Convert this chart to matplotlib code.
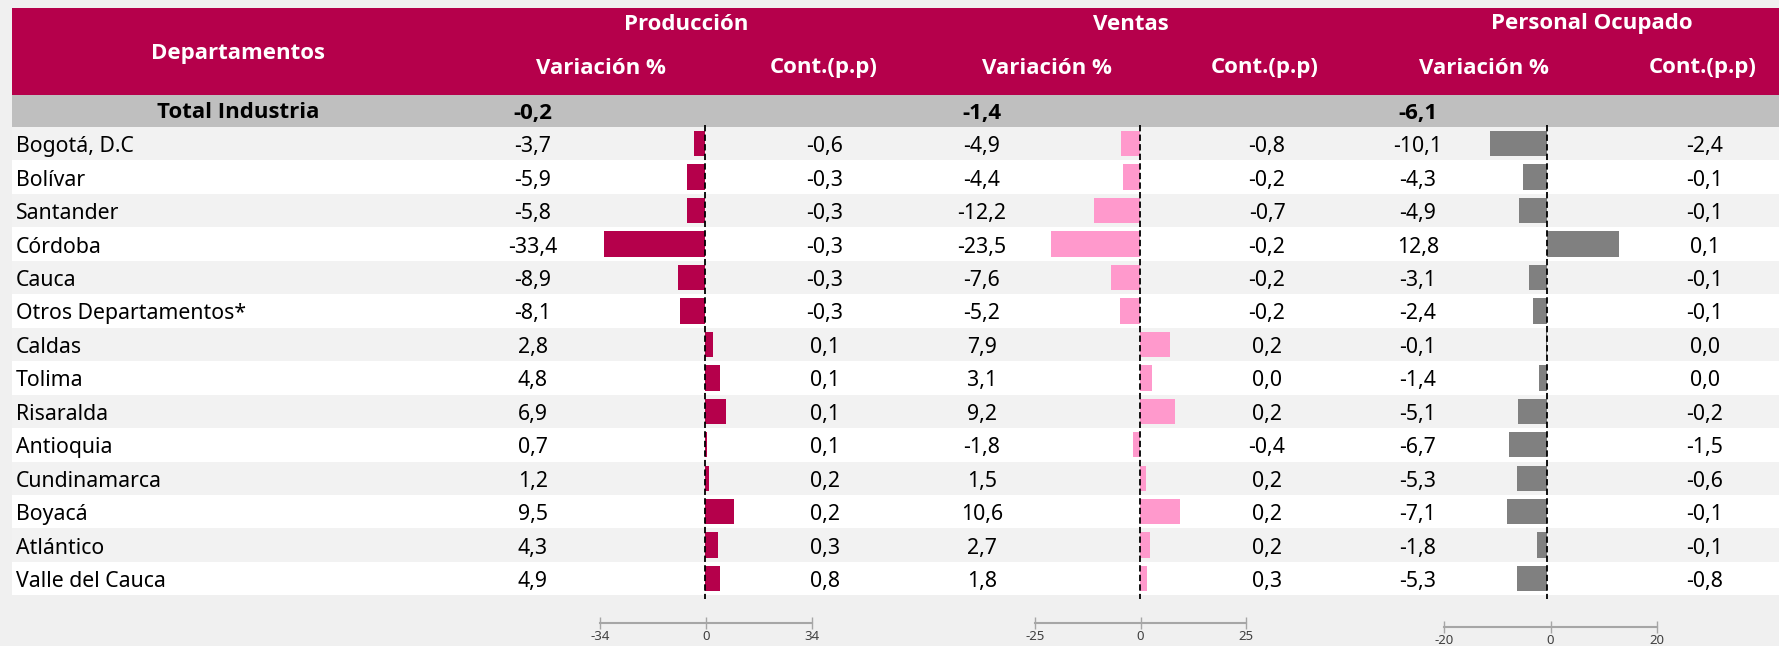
import matplotlib
matplotlib.use("Agg")
import matplotlib.pyplot as plt
from matplotlib.patches import Rectangle

plt.rcParams['font.family'] = ['Noto Sans', 'DejaVu Sans']
plt.rcParams['axes.unicode_minus'] = False
BOLD_FAMILY = ['Open Sans', 'Roboto', 'DejaVu Sans']

departments = ["Bogotá, D.C", "Bolívar", "Santander", "Córdoba", "Cauca",
               "Otros Departamentos*", "Caldas", "Tolima", "Risaralda",
               "Antioquia", "Cundinamarca", "Boyacá", "Atlántico",
               "Valle del Cauca"]
prod_var = [-3.7, -5.9, -5.8, -33.4, -8.9, -8.1, 2.8, 4.8, 6.9, 0.7, 1.2, 9.5, 4.3, 4.9]
prod_cont = [-0.6, -0.3, -0.3, -0.3, -0.3, -0.3, 0.1, 0.1, 0.1, 0.1, 0.2, 0.2, 0.3, 0.8]
vent_var = [-4.9, -4.4, -12.2, -23.5, -7.6, -5.2, 7.9, 3.1, 9.2, -1.8, 1.5, 10.6, 2.7, 1.8]
vent_cont = [-0.8, -0.2, -0.7, -0.2, -0.2, -0.2, 0.2, 0.0, 0.2, -0.4, 0.2, 0.2, 0.2, 0.3]
pers_var = [-10.1, -4.3, -4.9, 12.8, -3.1, -2.4, -0.1, -1.4, -5.1, -6.7, -5.3, -7.1, -1.8, -5.3]
pers_cont = [-2.4, -0.1, -0.1, 0.1, -0.1, -0.1, 0.0, 0.0, -0.2, -1.5, -0.6, -0.1, -0.1, -0.8]
groups = ["Producción", "Ventas", "Personal Ocupado"]
totals = [-0.2, -1.4, -6.1]
scale_ticks = [[-34, 0, 34], [-25, 0, 25], [-20, 0, 20]]

W, H = 1779, 646
CRIMSON = "#B5004B"
bar_colors = [CRIMSON, "#FF99CC", "#808080"]


def fmt(v):
    return f"{v:.1f}".replace(".", ",")


fig = plt.figure(figsize=(W / 100, H / 100), dpi=100, facecolor="#F0F0F0")


def px_axes(x0, y0, x1, y1):
    return fig.add_axes([x0 / W, 1 - y1 / H, (x1 - x0) / W, (y1 - y0) / H])


bg = px_axes(0, 0, W, H)
bg.set_xlim(0, W)
bg.set_ylim(H, 0)
bg.axis("off")

# table layout (pixels)
left = 12
head_top, head_bot = 8, 95
tot_bot = 127
row_h = 33.45
n = len(departments)

bg.add_patch(Rectangle((left, head_top), W - left, head_bot - head_top, color=CRIMSON, lw=0))
bg.add_patch(Rectangle((left, head_bot), W - left, tot_bot - head_bot, color="#BFBFBF", lw=0))
for i in range(n):
    c = "#F2F2F2" if i % 2 == 0 else "white"
    bg.add_patch(Rectangle((left, tot_bot + i * row_h), W - left, row_h, color=c, lw=0))

# column centres
group_x = [686, 1131, 1592]
varh_x = [601, 1047, 1484]
conth_x = [824, 1265, 1703]
var_x = [533, 982, 1418]
cont_x = [825, 1267, 1705]

hdr = dict(color="white", fontsize=16, fontweight="bold", family=BOLD_FAMILY,
           ha="center", va="center")
bg.text(238, 53, "Departamentos", **hdr)
for k in range(3):
    bg.text(group_x[k], 24, groups[k], **hdr)
    bg.text(varh_x[k], 68, "Variación %", **hdr)
    bg.text(conth_x[k], 68, "Cont.(p.p)", **hdr)
    bg.text(var_x[k], 113, fmt(totals[k]), fontsize=16, fontweight="bold",
            family=BOLD_FAMILY, ha="center", va="center", color="black")
bg.text(238, 113, "Total Industria", fontsize=16, fontweight="bold",
        family=BOLD_FAMILY, ha="center", va="center", color="black")

vars_ = [prod_var, vent_var, pers_var]
conts = [prod_cont, vent_cont, pers_cont]
for i in range(n):
    yc = tot_bot + (i + 0.5) * row_h + 3
    bg.text(16, yc, departments[i], fontsize=15.3, ha="left", va="center", color="black")
    for k in range(3):
        bg.text(var_x[k], yc, fmt(vars_[k][i]), fontsize=15.3, ha="center", va="center", color="black")
        bg.text(cont_x[k], yc, fmt(conts[k][i]), fontsize=15.3, ha="center", va="center", color="black")

# bar columns: zero position (px) and px per unit
zeros = [705, 1140, 1547]
px_unit = [3.03, 3.8, 5.65]
half = 110
for k in range(3):
    ax = px_axes(zeros[k] - half, tot_bot, zeros[k] + half, tot_bot + n * row_h)
    ax.set_xlim(-half / px_unit[k], half / px_unit[k])
    ax.set_ylim(n - 0.5, -0.5)
    ax.barh(range(n), vars_[k], height=0.76, color=bar_colors[k], lw=0)
    ax.plot([0, 0], [-0.56, n - 0.4], color="black", lw=1.3,
            ls=(0, (3.5, 1.8)), clip_on=False)
    ax.axis("off")

# scale axes at the bottom
scale_px = [(600, 812, 623), (1035, 1246, 623), (1444, 1657, 627)]
for k in range(3):
    x0, x1, y = scale_px[k]
    sa = px_axes(x0, y, x1, y + 0.01)
    sa.set_xlim(scale_ticks[k][0], scale_ticks[k][-1])
    sa.set_facecolor("none")
    for s in ["top", "left", "right"]:
        sa.spines[s].set_visible(False)
    sa.spines["bottom"].set_color("#A6A6A6")
    sa.spines["bottom"].set_linewidth(1.5)
    sa.set_yticks([])
    sa.set_xticks(scale_ticks[k])
    sa.tick_params(axis="x", direction="inout", length=8, width=1, color="#A6A6A6",
                   labelsize=9.5, labelcolor="#404040", pad=1)

fig.savefig("out.png", dpi=100, facecolor=fig.get_facecolor())
